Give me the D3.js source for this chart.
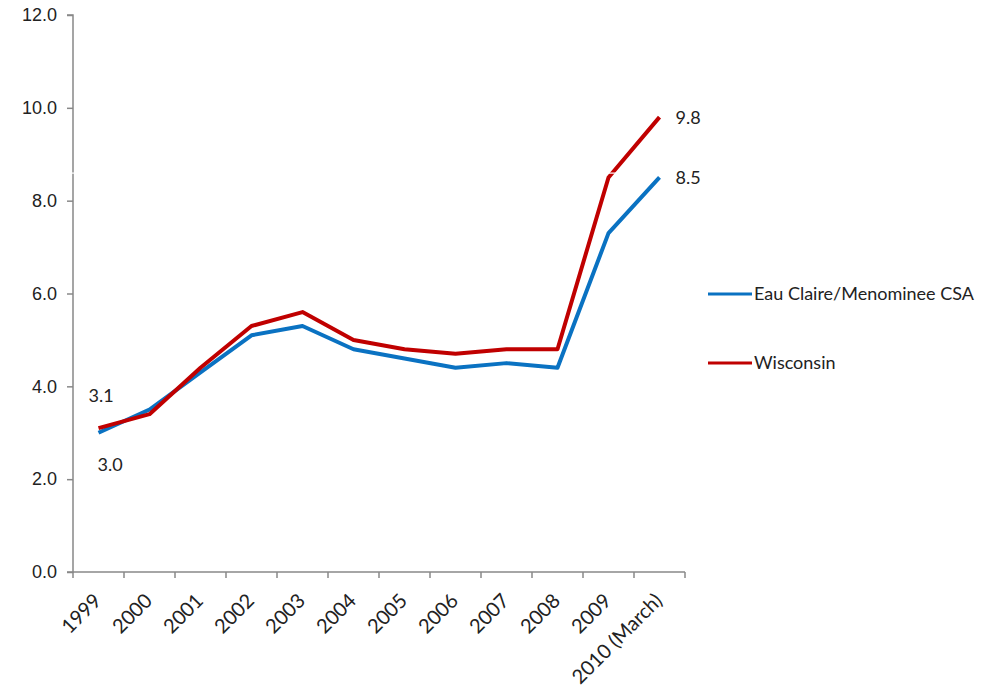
<!DOCTYPE html>
<html>
<head>
<meta charset="utf-8">
<title>Unemployment rate</title>
<script src="https://d3js.org/d3.v7.min.js"></script>
<style>
  body { margin: 0; background: #fff; }
  svg { font-family: Lato, "Open Sans", sans-serif; }
  .axis text { font-size: 18px; fill: #222; }
  .axis path, .axis line { stroke: #888; stroke-width: 1.5px; }
  .xlab text { font-size: 20px; }
</style>
</head>
<body>
<svg width="1007" height="688"></svg>
<script>
// chart data
const years = ["1999", "2000", "2001", "2002", "2003", "2004", "2005", "2006", "2007", "2008", "2009", "2010 (March)"];
const eauClaire = [3.0, 3.5, 4.3, 5.1, 5.3, 4.8, 4.6, 4.4, 4.5, 4.4, 7.3, 8.5];
const wisconsin = [3.1, 3.4, 4.4, 5.3, 5.6, 5.0, 4.8, 4.7, 4.8, 4.8, 8.5, 9.8];
const yTicks = [0, 2, 4, 6, 8, 10, 12];

const svg = d3.select("svg");

const x = d3.scaleBand().domain(years).range([73, 685]);
const y = d3.scaleLinear().domain([0, 12]).range([572, 15]);

// y axis
svg.append("g")
  .attr("class", "axis")
  .attr("transform", "translate(73,0)")
  .call(d3.axisLeft(y).tickValues(yTicks).tickFormat(d3.format(".1f")).tickSize(6).tickPadding(10))
  .call(g => g.select(".domain").attr("d", "M-6,15H0V572H-6"));

// x axis, ticks on band edges
const xAxis = svg.append("g")
  .attr("class", "axis xlab")
  .attr("transform", "translate(0,572)");
xAxis.append("path")
  .attr("d", "M73,0H685")
  .attr("fill", "none");
xAxis.selectAll("line.edge")
  .data(years.map(d => x(d)).concat([x.range()[1]]))
  .enter().append("line")
  .attr("x1", d => d).attr("x2", d => d)
  .attr("y1", 0).attr("y2", 6);
xAxis.selectAll("text")
  .data(years)
  .enter().append("text")
  .attr("text-anchor", "end")
  .attr("transform", d => "translate(" + (x(d) + x.bandwidth() / 2 + 4) + ",30) rotate(-45)")
  .text(d => d);

const line = d3.line()
  .x((d, i) => x(years[i]) + x.bandwidth() / 2)
  .y(d => y(d));

svg.append("path")
  .datum(eauClaire)
  .attr("d", line)
  .attr("fill", "none")
  .attr("stroke", "#0a72c2")
  .attr("stroke-width", 4)
  .attr("stroke-linejoin", "round");

svg.append("path")
  .datum(wisconsin)
  .attr("d", line)
  .attr("fill", "none")
  .attr("stroke", "#c00000")
  .attr("stroke-width", 4)
  .attr("stroke-linejoin", "round");

// thin white scan break seen in the original
svg.append("rect")
  .attr("x", 0).attr("y", 172.5)
  .attr("width", 700).attr("height", 1.2)
  .attr("fill", "#fff");

// data labels at the ends
const first = x(years[0]) + x.bandwidth() / 2;
const last = x(years[years.length - 1]) + x.bandwidth() / 2;
const labels = svg.append("g").attr("font-size", 18).attr("fill", "#222");
labels.append("text").attr("x", first - 10).attr("y", y(wisconsin[0]) - 26).text(wisconsin[0].toFixed(1));
labels.append("text").attr("x", first - 1).attr("y", y(eauClaire[0]) + 38).text(eauClaire[0].toFixed(1));
labels.append("text").attr("x", last + 16).attr("y", y(wisconsin[11]) + 7).text(wisconsin[11].toFixed(1));
labels.append("text").attr("x", last + 16).attr("y", y(eauClaire[11]) + 7).text(eauClaire[11].toFixed(1));

// legend
const legend = svg.append("g").attr("font-size", 18).attr("fill", "#222");
const series = [["Eau Claire/Menominee CSA", "#0a72c2", 294], ["Wisconsin", "#c00000", 363]];
series.forEach(s => {
  legend.append("line")
    .attr("x1", 708).attr("x2", 752)
    .attr("y1", s[2]).attr("y2", s[2])
    .attr("stroke", s[1]).attr("stroke-width", 3);
  legend.append("text")
    .attr("x", 754).attr("y", s[2] + 6)
    .text(s[0]);
});
</script>
</body>
</html>
